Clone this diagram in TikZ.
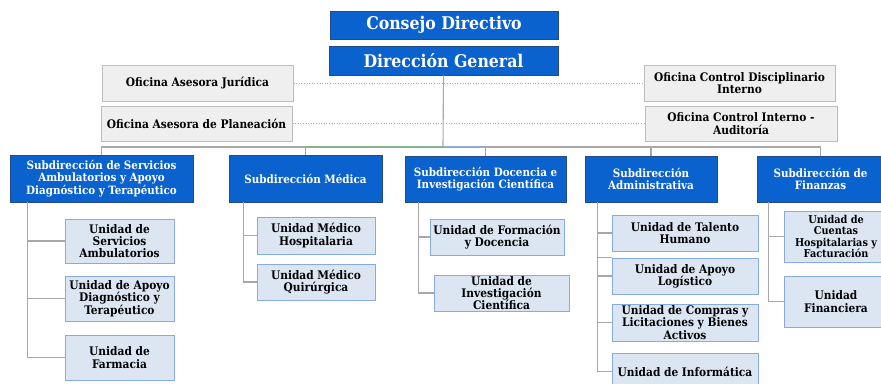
\documentclass[tikz,border=0pt]{standalone}
\usepackage{fontspec}
\setmainfont{DejaVu Serif Condensed}
\usetikzlibrary{calc}
\definecolor{bluefill}{HTML}{0A62CE}
\definecolor{blueedge}{HTML}{254A8C}
\definecolor{grayfill}{HTML}{EFEFEF}
\definecolor{grayedge}{HTML}{BDBDBD}
\definecolor{unitfill}{HTML}{DCE6F3}
\definecolor{unitedge}{HTML}{86AAE6}
\definecolor{linegray}{HTML}{A8A8A8}
\definecolor{linegreen}{HTML}{86B38C}
\definecolor{lineblue}{HTML}{93AACB}
\tikzset{
  box/.style={rectangle, inner sep=1pt, align=center, font=\bfseries\fontsize{11.8}{12.3}\selectfont},
  topbox/.style={box, fill=bluefill, draw=blueedge, line width=0.8pt, text=white, font=\bfseries\fontsize{17.5}{20}\selectfont},
  subbox/.style={box, fill=bluefill, draw=blueedge, line width=0.8pt, text=white, font=\bfseries\fontsize{11.5}{12.3}\selectfont},
  offbox/.style={box, fill=grayfill, draw=grayedge, line width=1pt},
  unitbox/.style={box, fill=unitfill, draw=unitedge, line width=1pt},
  conn/.style={draw=linegray, line width=1.1pt},
  dotconn/.style={draw=linegray, line width=0.6pt, dotted},
}
\begin{document}
\begin{tikzpicture}[x=1pt, y=-1pt]
\useasboundingbox (0,0) rectangle (881,383);
% top
\node[topbox, minimum width=228pt, minimum height=28pt] (CD) at (444,25) {Consejo Directivo};
\node[topbox, minimum width=229pt, minimum height=29pt] (DG) at (443.5,60.5) {Dirección General};
% offices
\node[offbox, minimum width=191pt, minimum height=36pt] (OAJ) at (197.5,83) {Oficina Asesora Jurídica};
\node[offbox, minimum width=191pt, minimum height=35pt] (OAP) at (196.5,123.5) {Oficina Asesora de Planeación};
\node[offbox, minimum width=191pt, minimum height=36pt] (OCD) at (739.5,83) {Oficina Control Disciplinario\\Interno};
\node[offbox, minimum width=192pt, minimum height=35pt] (OCI) at (741,123.5) {Oficina Control Interno -\\Auditoría};
\draw[dotconn] (OAJ.east) -- (OCD.west);
\draw[dotconn] (OAP.east) -- (OCI.west);
% subdirections
\node[subbox, minimum width=183pt, minimum height=47pt] (S1) at (101.5,178.5) {Subdirección de Servicios\\Ambulatorios y Apoyo\\Diagnóstico y Terapéutico};
\node[subbox, minimum width=153pt, minimum height=47pt] (S2) at (305.5,178.5) {Subdirección Médica};
\node[subbox, minimum width=161pt, minimum height=46pt] (S3) at (485.5,179) {Subdirección Docencia e\\Investigación Científica};
\node[subbox, minimum width=132pt, minimum height=46pt] (S4) at (651,179) {Subdirección\\Administrativa};
\node[subbox, minimum width=127pt, minimum height=46pt] (S5) at (820.5,179) {Subdirección de\\Finanzas};
% bus
\coordinate (bus) at (443,147);
\draw[conn] (DG.south) -- (bus);
\draw[conn] (bus) -- (bus -| S2.north) -- (bus -| S1.north) -- (S1.north);
\draw[draw=linegreen, line width=1.1pt] (bus -| S2.north) -- (S2.north);
\draw[draw=linegreen, line width=1.1pt] (bus) -- (bus -| S2.north);
\draw[draw=lineblue, line width=1.1pt] (bus) -- (bus -| S3.north) -- (S3.north);
\draw[conn] (bus -| S3.north) -- (bus -| S5.north) -- (S5.north);
\draw[conn] (bus -| S4.north) -- (S4.north);
% units
\node[unitbox, minimum width=109pt, minimum height=44pt] (U1a) at (119.5,241) {Unidad de\\Servicios\\Ambulatorios};
\node[unitbox, minimum width=109pt, minimum height=45pt] (U1b) at (119.5,298.5) {Unidad de Apoyo\\Diagnóstico y\\Terapéutico};
\node[unitbox, minimum width=109pt, minimum height=45pt] (U1c) at (119.5,357.5) {Unidad de\\Farmacia};
\node[unitbox, minimum width=118pt, minimum height=37pt] (U2a) at (316,235.5) {Unidad Médico\\Hospitalaria};
\node[unitbox, minimum width=118pt, minimum height=36pt] (U2b) at (316,282) {Unidad Médico\\Quirúrgica};
\node[unitbox, minimum width=134pt, minimum height=36pt] (U3a) at (497,237) {Unidad de Formación\\y Docencia};
\node[unitbox, minimum width=135pt, minimum height=36pt] (U3b) at (501.5,293) {Unidad de\\Investigación\\Científica};
\node[unitbox, minimum width=146pt, minimum height=36pt] (U4a) at (685,233) {Unidad de Talento\\Humano};
\node[unitbox, minimum width=146pt, minimum height=36pt] (U4b) at (685,276) {Unidad de Apoyo\\Logístico};
\node[unitbox, minimum width=146pt, minimum height=37pt] (U4c) at (685,322.5) {Unidad de Compras y\\Licitaciones y Bienes\\Activos};
\node[unitbox, minimum width=146pt, minimum height=37pt] (U4d) at (685,371.5) {Unidad de Informática};
\node[unitbox, minimum width=104pt, minimum height=51pt, font=\bfseries\fontsize{10.8}{11.6}\selectfont] (U5a) at (836,236.5) {Unidad de\\Cuentas\\Hospitalarias y\\Facturación};
\node[unitbox, minimum width=104pt, minimum height=51pt] (U5b) at (836,301.5) {Unidad\\Financiera};
% unit connectors
\draw[conn] ($(S1.south west)+(18,0)$) |- (U1c.west);
\draw[conn] ($(S1.south west)+(18,0)$) |- (U1a.west);
\draw[conn] ($(S1.south west)+(18,0)$) |- (U1b.west);
\draw[conn] ($(S2.south west)+(15,0)$) |- (U2b.west);
\draw[conn] ($(S2.south west)+(15,0)$) |- (U2a.west);
\draw[conn] ($(S3.south west)+(14,0)$) |- (U3b.west);
\draw[conn] ($(S3.south west)+(14,0)$) |- (U3a.west);
\draw[conn] ($(S4.south west)+(13,0)$) |- (U4d.west);
\draw[conn] ($(S4.south west)+(13,0)$) |- (U4a.west);
\draw[conn] ($(S4.south west)+(13,0)$) |- (U4b.west);
\draw[conn] ($(S4.south west)+(13,0)$) |- (U4c.west);
\draw[conn] ($(S4.south west)+(13,0)$) |- (U4b.north west);
\draw[conn] ($(S5.south west)+(12,0)$) |- (U5b.west);
\draw[conn] ($(S5.south west)+(12,0)$) |- (U5a.west);
\end{tikzpicture}
\end{document}
